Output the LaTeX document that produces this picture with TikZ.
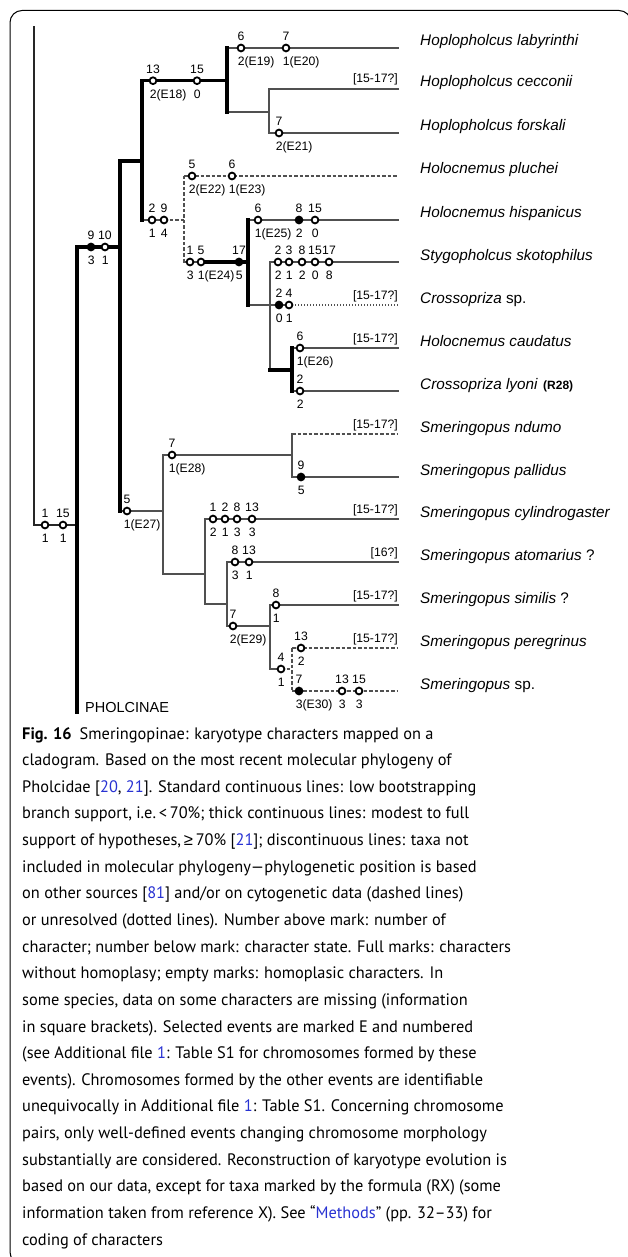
\documentclass[tikz,border=0pt]{standalone}
\usepackage{fontspec}
\setmainfont{PT Sans}[FakeStretch=0.985]
\newfontfamily\arialf{Liberation Sans}
\definecolor{linkblue}{RGB}{40,50,210}
\definecolor{brgray}{RGB}{80,80,80}
\newcommand{\lk}[1]{\textcolor{linkblue}{#1}}
\tikzset{
 brthin/.style={draw=brgray, line width=1.3pt, line cap=rect},
 brmid/.style={draw=black!85, line width=1.8pt, line cap=rect},
 brthick/.style={draw=black, line width=3.2pt, line cap=rect},
 brdash/.style={draw=brgray, line width=1.1pt, dash pattern=on 3.5pt off 2pt},
 brdot/.style={draw=brgray, line width=1.1pt, dash pattern=on 1pt off 2pt},
 omk/.style={circle, draw=black, fill=white, line width=1.8pt, inner sep=0pt, minimum size=6.8pt},
 fmk/.style={omk, fill=black},
 numlab/.style={inner sep=0pt, font=\arialf\fontsize{12.2}{13}\selectfont},
 uplab/.style={numlab, anchor=base},
 dnlab/.style={numlab, anchor=base west},
 misslab/.style={numlab, anchor=base east},
 taxon/.style={inner sep=0pt, anchor=base west, font=\arialf\itshape\fontsize{15.3}{16}\selectfont},
}
\newcommand{\chmark}[6]{%
  \node[#2] (#1) at (#3,#4) {};
  \node[uplab] (#1a) at (#3,#4-7.5) {#5};
  \node[dnlab] (#1b) at (#3-3.4,#4+17.5) {#6};
}
\begin{document}
\begin{tikzpicture}[x=1pt,y=-1pt]
\useasboundingbox (0,0) rectangle (627,1257);
\draw[line width=1pt, rounded corners=12pt] (10,10.5) rectangle (631,1264);

% coordinates
\coordinate (rtop) at (34,27);
\coordinate (r) at (34,525);
\coordinate (s0) at (77,525);
\coordinate (ptop) at (77,247);
\coordinate (pbot) at (77,712);
\coordinate (a) at (120,247);
\coordinate (aT) at (120,161);
\coordinate (aB) at (120,511);
\coordinate (bM) at (142,161);
\coordinate (bT) at (142,80.7);
\coordinate (bB) at (142,220);
\coordinate (c) at (227,80.7);
\coordinate (cT) at (227,48);
\coordinate (cB) at (227,112);
\coordinate (d) at (269,112);
\coordinate (dT) at (269,89);
\coordinate (dB) at (269,133);
\coordinate (e1) at (164,220);
\coordinate (e) at (184,220);
\coordinate (eT) at (184,176);
\coordinate (eB) at (184,262);
\coordinate (f1) at (201,262);
\coordinate (f) at (248,262);
\coordinate (fT) at (248,220);
\coordinate (fB) at (248,305);
\coordinate (g) at (270,305);
\coordinate (gT) at (270,262);
\coordinate (gB) at (270,370);
\coordinate (g1) at (289,305);
\coordinate (h) at (292,370);
\coordinate (hT) at (292,348);
\coordinate (hB) at (292,391);
\coordinate (i) at (163,511);
\coordinate (iT) at (163,455);
\coordinate (iB) at (163,574);
\coordinate (j) at (292,455);
\coordinate (jT) at (292,434);
\coordinate (jB) at (292,477);
\coordinate (k) at (205,574);
\coordinate (kT) at (205,519);
\coordinate (kB) at (205,604);
\coordinate (l) at (227,604);
\coordinate (lT) at (227,562);
\coordinate (lB) at (227,626);
\coordinate (m) at (270,626);
\coordinate (mT) at (270,605);
\coordinate (mB) at (270,669);
\coordinate (n1) at (281,669);
\coordinate (n) at (292,669);
\coordinate (nT) at (292,648);
\coordinate (nB) at (292,691);
% tips
\coordinate (tLab) at (398,48);
\coordinate (tCec) at (398,89);
\coordinate (tFor) at (398,133);
\coordinate (tPlu) at (398,176);
\coordinate (tHis) at (398,220);
\coordinate (tSty) at (398,262);
\coordinate (tCsp) at (398,305);
\coordinate (tCau) at (398,348);
\coordinate (tLyo) at (398,391);
\coordinate (tNdu) at (398,434);
\coordinate (tPal) at (398,477);
\coordinate (tCyl) at (398,519);
\coordinate (tAto) at (398,562);
\coordinate (tSim) at (398,605);
\coordinate (tPer) at (398,648);
\coordinate (tSsp) at (398,691);

% thin branches
\draw[brthin] (cT) -- (tLab);
\draw[brthin] (cB) -- (d);
\draw[brthin] (dT) -- (dB);
\draw[brthin] (dT) -- (tCec);
\draw[brthin] (dB) -- (tFor);
\draw[brthin] (bB) -- (e1);
\draw[brdash] (e1) -- (e);
\draw[brdash] (eT) -- (eB);
\draw[brdash] (eT) -- (tPlu);
\draw[brthin] (eB) -- (f1);
\draw[brthin] (fT) -- (tHis);
\draw[brthin] (fB) -- (g);
\draw[brthin] (gT) -- (gB);
\draw[brthin] (gT) -- (tSty);
\draw[brthin] (g) -- (g1);
\draw[brdot] (g1) -- (tCsp);
\draw[brthin] (hT) -- (tCau);
\draw[brthin] (hB) -- (tLyo);
\draw[brthin] (aB) -- (i);
\draw[brthin] (iT) -- (iB);
\draw[brthin] (iT) -- (j);
\draw[brthin] (jT) -- (jB);
\draw[brdash] (jT) -- (tNdu);
\draw[brthin] (jB) -- (tPal);
\draw[brthin] (iB) -- (k);
\draw[brthin] (kT) -- (kB);
\draw[brthin] (kT) -- (tCyl);
\draw[brthin] (kB) -- (l);
\draw[brthin] (lT) -- (lB);
\draw[brthin] (lT) -- (tAto);
\draw[brthin] (lB) -- (m);
\draw[brthin] (mT) -- (mB);
\draw[brthin] (mT) -- (tSim);
\draw[brthin] (mB) -- (n1);
\draw[brdash] (n1) -- (n);
\draw[brdash] (nT) -- (nB);
\draw[brdash] (nT) -- (tPer);
\draw[brdash] (nB) -- (tSsp);
% medium
\draw[brmid] (rtop) -- (r) -- (s0);
% thick branches
\draw[brthick] (ptop) -- (pbot);
\draw[brthick] (ptop) -- (a);
\draw[brthick] (aT) -- (aB);
\draw[brthick] (aT) -- (bM);
\draw[brthick] (bT) -- (bB);
\draw[brthick] (bT) -- (c);
\draw[brthick] (cT) -- (cB);
\draw[brthick] (f1) -- (f);
\draw[brthick] (fT) -- (fB);
\draw[brthick] (gB) -- (h);
\draw[brthick] (hT) -- (hB);

% marks
\chmark{m01}{omk}{241}{48}{6}{2(E19)}
\chmark{m02}{omk}{286}{48}{7}{1(E20)}
\chmark{m03}{omk}{153}{80.7}{13}{2(E18)}
\chmark{m04}{omk}{197}{80.7}{15}{0}
\chmark{m05}{omk}{279}{133}{7}{2(E21)}
\chmark{m06}{omk}{192}{176}{5}{2(E22)}
\chmark{m07}{omk}{232}{176}{6}{1(E23)}
\chmark{m08}{omk}{152}{220}{2}{1}
\chmark{m09}{omk}{164}{220}{9}{4}
\chmark{m10}{omk}{258}{220}{6}{1(E25)}
\chmark{m11}{fmk}{299}{220}{8}{2}
\chmark{m12}{omk}{315}{220}{15}{0}
\chmark{m13}{omk}{190}{262}{1}{3}
\chmark{m14}{omk}{201}{262}{5}{1(E24)}
\chmark{m15}{fmk}{239}{262}{17}{5}
\chmark{m16}{omk}{278}{262}{2}{2}
\chmark{m17}{omk}{289}{262}{3}{1}
\chmark{m18}{omk}{302}{262}{8}{2}
\chmark{m19}{omk}{315}{262}{15}{0}
\chmark{m20}{omk}{329}{262}{17}{8}
\chmark{m21}{fmk}{279}{305}{2}{0}
\chmark{m22}{omk}{289}{305}{4}{1}
\chmark{m23}{omk}{300}{348}{6}{1(E26)}
\chmark{m24}{omk}{300}{391}{2}{2}
\chmark{m25}{fmk}{91}{247}{9}{3}
\chmark{m26}{omk}{105}{247}{10}{1}
\chmark{m27}{omk}{45}{525}{1}{1}
\chmark{m28}{omk}{63}{525}{15}{1}
\chmark{m29}{omk}{127}{511}{5}{1(E27)}
\chmark{m30}{omk}{172}{455}{7}{1(E28)}
\chmark{m31}{fmk}{301}{477}{9}{5}
\chmark{m32}{omk}{213}{519}{1}{2}
\chmark{m33}{omk}{225}{519}{2}{1}
\chmark{m34}{omk}{237}{519}{8}{3}
\chmark{m35}{omk}{252}{519}{13}{3}
\chmark{m36}{omk}{235}{562}{8}{3}
\chmark{m37}{omk}{249}{562}{13}{1}
\chmark{m38}{omk}{233}{626}{7}{2(E29)}
\chmark{m39}{omk}{276}{605}{8}{1}
\chmark{m40}{omk}{281}{669}{4}{1}
\chmark{m41}{omk}{301}{648}{13}{2}
\chmark{m42}{fmk}{299}{691}{7}{3(E30)}
\chmark{m43}{omk}{342}{691}{13}{3}
\chmark{m44}{omk}{359}{691}{15}{3}

% missing data labels
\node[misslab] (q1) at (398,83) {[15-17?]};
\node[misslab] (q2) at (398,299) {[15-17?]};
\node[misslab] (q3) at (398,342) {[15-17?]};
\node[misslab] (q4) at (398,428) {[15-17?]};
\node[misslab] (q5) at (398,513) {[15-17?]};
\node[misslab] (q6) at (398,556) {[16?]};
\node[misslab] (q7) at (398,599) {[15-17?]};
\node[misslab] (q8) at (398,642) {[15-17?]};

% taxa
\node[taxon] (s01) at (420,46) {Hoplopholcus labyrinthi};
\node[taxon] (s02) at (420,87) {Hoplopholcus cecconii};
\node[taxon] (s03) at (420,131) {Hoplopholcus forskali};
\node[taxon] (s04) at (420,174) {Holocnemus pluchei};
\node[taxon] (s05) at (420,218) {Holocnemus hispanicus};
\node[taxon] (s06) at (420,260) {Stygopholcus skotophilus};
\node[taxon] (s07) at (420,303) {Crossopriza\/ \upshape sp.};
\node[taxon] (s08) at (420,346) {Holocnemus caudatus};
\node[taxon] (s09) at (420,389) {Crossopriza lyoni};
\node[numlab, anchor=base west, font=\arialf\bfseries\fontsize{12}{13}\selectfont] (r28) at (543,389) {(R28)};
\node[taxon] (s10) at (420,432) {Smeringopus ndumo};
\node[taxon] (s11) at (420,475) {Smeringopus pallidus};
\node[taxon] (s12) at (420,517) {Smeringopus cylindrogaster};
\node[taxon] (s13) at (420,560) {Smeringopus atomarius\/ \upshape ?};
\node[taxon] (s14) at (420,603) {Smeringopus similis\/ \upshape ?};
\node[taxon] (s15) at (420,646) {Smeringopus peregrinus};
\node[taxon] (s16) at (420,689) {Smeringopus\/ \upshape sp.};

\node[inner sep=0pt, anchor=base west, font=\arialf\fontsize{14.5}{15}\selectfont] (phol) at (85,712) {PHOLCINAE};

% caption
\node[anchor=base west, inner sep=0pt] (caption) at (22,739) {\begin{minipage}[t]{600pt}\fontsize{16.6}{26.64}\selectfont\raggedright
\textbf{Fig. 16}\hspace{8pt}Smeringopinae: karyotype characters mapped on a\\
cladogram. Based on the most recent molecular phylogeny of\\
Pholcidae [\lk{20}, \lk{21}]. Standard continuous lines: low bootstrapping\\
branch support, i.e.\,<\,70\%; thick continuous lines: modest to full\\
support of hypotheses,\,{\arialf ≥}\,70\% [\lk{21}]; discontinuous lines: taxa not\\
included in molecular phylogeny—phylogenetic position is based\\
on other sources [\lk{81}] and/or on cytogenetic data (dashed lines)\\
or unresolved (dotted lines). Number above mark: number of\\
character; number below mark: character state. Full marks: characters\\
without homoplasy; empty marks: homoplasic characters. In\\
some species, data on some characters are missing (information\\
in square brackets). Selected events are marked E and numbered\\
(see Additional file \lk{1}: Table S1 for chromosomes formed by these\\
events). Chromosomes formed by the other events are identifiable\\
unequivocally in Additional file \lk{1}: Table S1. Concerning chromosome\\
pairs, only well-defined events changing chromosome morphology\\
substantially are considered. Reconstruction of karyotype evolution is\\
based on our data, except for taxa marked by the formula (RX) (some\\
information taken from reference X). See “\lk{Methods}” (pp. 32–33) for\\
coding of characters
\end{minipage}};
\end{tikzpicture}
\end{document}
